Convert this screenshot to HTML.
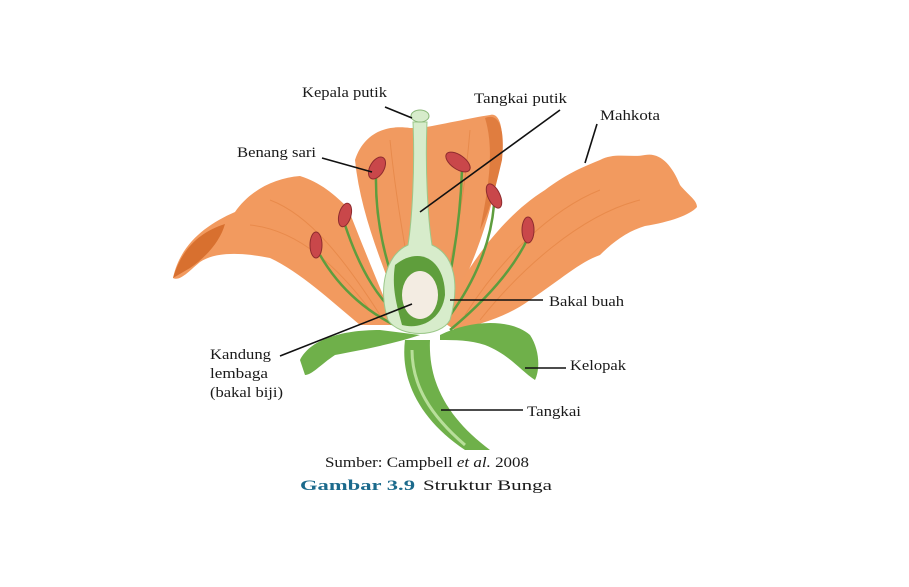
<!DOCTYPE html>
<html><head><meta charset="utf-8"><style>
html,body{margin:0;padding:0;background:#fff;}
svg{display:block}
text{font-family:"Liberation Serif",serif;font-size:15px;fill:#1a1a1a}
</style></head><body>
<svg width="909" height="587" viewBox="0 0 909 587" xmlns="http://www.w3.org/2000/svg">
<!-- left big petal -->
<path d="M173,278 C180,245 205,225 235,212 C250,190 275,178 300,176 C320,182 335,195 348,208 C362,245 382,292 395,325 L360,325 C330,300 300,272 270,258 C240,252 215,252 200,262 C190,270 180,282 173,278 Z" fill="#f29a5f"/>
<path d="M173,278 C182,248 200,232 225,224 C220,242 205,258 190,268 Z" fill="#d8702f"/>
<!-- back center petal -->
<path d="M355,160 C365,130 390,125 410,128 L420,128 C440,125 470,118 490,115 C500,112 505,130 500,160 C495,200 480,250 455,300 L400,310 C380,260 360,210 355,160 Z" fill="#f19a60"/>
<path d="M485,118 C500,112 505,130 502,160 C495,190 490,210 480,230 C488,190 495,150 485,118 Z" fill="#e07d3f"/>
<!-- right big petal -->
<path d="M440,320 C470,260 505,215 545,190 C565,175 580,168 600,160 C615,152 630,158 645,155 C660,152 672,165 680,185 C688,195 697,200 697,207 C690,215 670,222 645,226 C625,232 610,245 600,255 C580,262 560,280 530,300 C510,315 480,325 455,330 Z" fill="#f29a5f"/>
<!-- petal streaks -->
<g stroke="#e2803f" stroke-width="1" fill="none" opacity="0.6">
<path d="M250,225 C300,230 340,270 370,310"/><path d="M270,200 C310,215 345,260 380,315"/>
<path d="M600,190 C550,210 500,260 465,315"/><path d="M640,200 C580,215 520,270 480,320"/>
<path d="M390,140 C395,190 405,250 415,300"/><path d="M470,130 C465,190 455,250 440,300"/>
</g>
<!-- sepals -->
<path d="M300,360 C310,340 340,330 380,330 L420,335 C390,345 360,350 335,355 C320,365 312,375 305,375 Z" fill="#6fb04a"/>
<path d="M440,335 C470,320 510,318 530,335 C540,350 540,370 535,380 C520,370 510,355 485,345 C470,340 455,340 440,340 Z" fill="#6fb04a"/>
<!-- stem -->
<path d="M405,340 C400,380 420,420 465,450 L490,450 C450,420 428,385 430,340 Z" fill="#6fb04a"/>
<path d="M412,350 C412,385 430,415 465,445" stroke="#b8df9a" stroke-width="3" fill="none"/>
<!-- filaments -->
<g stroke="#5e9d3e" stroke-width="2.5" fill="none">
<path d="M320,255 C340,290 370,315 405,330"/><path d="M345,225 C360,270 380,305 410,325"/>
<path d="M376,175 C375,230 390,280 410,320"/><path d="M462,170 C460,230 450,280 440,320"/>
<path d="M494,205 C490,250 470,290 445,322"/><path d="M527,240 C510,275 480,305 450,330"/>
</g>
<!-- anthers -->
<g fill="#c9474a" stroke="#8e2b2e" stroke-width="1">
<ellipse cx="316" cy="245" rx="6" ry="13"/><ellipse cx="345" cy="215" rx="6" ry="12" transform="rotate(15 345 215)"/>
<ellipse cx="377" cy="168" rx="7" ry="12" transform="rotate(30 377 168)"/><ellipse cx="458" cy="162" rx="7" ry="14" transform="rotate(-55 458 162)"/>
<ellipse cx="494" cy="196" rx="6" ry="13" transform="rotate(-25 494 196)"/><ellipse cx="528" cy="230" rx="6" ry="13"/>
</g>
<!-- pistil -->
<path d="M413,122 L427,122 C425,170 428,220 432,245 C455,255 460,285 450,320 C440,338 400,338 388,320 C378,290 385,255 408,245 C412,220 415,170 413,122 Z" fill="#d7eccb" stroke="#9cc88a" stroke-width="1"/>
<ellipse cx="420" cy="116" rx="9" ry="6" fill="#d7eccb" stroke="#8ab878"/>
<path d="M395,265 C420,245 445,260 445,295 C442,320 420,330 402,325 C395,300 392,285 395,265 Z" fill="#5f9e3c"/>
<ellipse cx="420" cy="295" rx="18" ry="24" fill="#f3ece2"/>
<!-- leader lines -->
<g stroke="#111" stroke-width="1.6">
<line x1="385" y1="107" x2="412" y2="118"/><line x1="560" y1="110" x2="420" y2="212"/>
<line x1="597" y1="124" x2="585" y2="163"/><line x1="322" y1="158" x2="372" y2="172"/>
<line x1="450" y1="300" x2="543" y2="300"/><line x1="280" y1="356" x2="412" y2="304"/>
<line x1="525" y1="368" x2="566" y2="368"/><line x1="441" y1="410" x2="523" y2="410"/>
</g>
<text x="302" y="97" textLength="85" lengthAdjust="spacingAndGlyphs">Kepala putik</text>
<text x="474" y="103" textLength="93" lengthAdjust="spacingAndGlyphs">Tangkai putik</text>
<text x="600" y="120" textLength="60" lengthAdjust="spacingAndGlyphs">Mahkota</text>
<text x="237" y="157" textLength="79" lengthAdjust="spacingAndGlyphs">Benang sari</text>
<text x="549" y="306" textLength="75" lengthAdjust="spacingAndGlyphs">Bakal buah</text>
<text x="210" y="359" textLength="61" lengthAdjust="spacingAndGlyphs">Kandung</text>
<text x="210" y="378" textLength="58" lengthAdjust="spacingAndGlyphs">lembaga</text>
<text x="210" y="397" textLength="73" lengthAdjust="spacingAndGlyphs">(bakal biji)</text>
<text x="570" y="370" textLength="56" lengthAdjust="spacingAndGlyphs">Kelopak</text>
<text x="527" y="416" textLength="54" lengthAdjust="spacingAndGlyphs">Tangkai</text>
<text x="325" y="467" textLength="204" lengthAdjust="spacingAndGlyphs">Sumber: Campbell <tspan font-style="italic">et al.</tspan>  2008</text>
<text x="300" y="490" font-size="18" font-weight="bold" style="fill:#1b6a8c" textLength="115" lengthAdjust="spacingAndGlyphs">Gambar 3.9</text>
<text x="423" y="490" font-size="18" textLength="129" lengthAdjust="spacingAndGlyphs">Struktur Bunga</text>
</svg>
</body></html>
